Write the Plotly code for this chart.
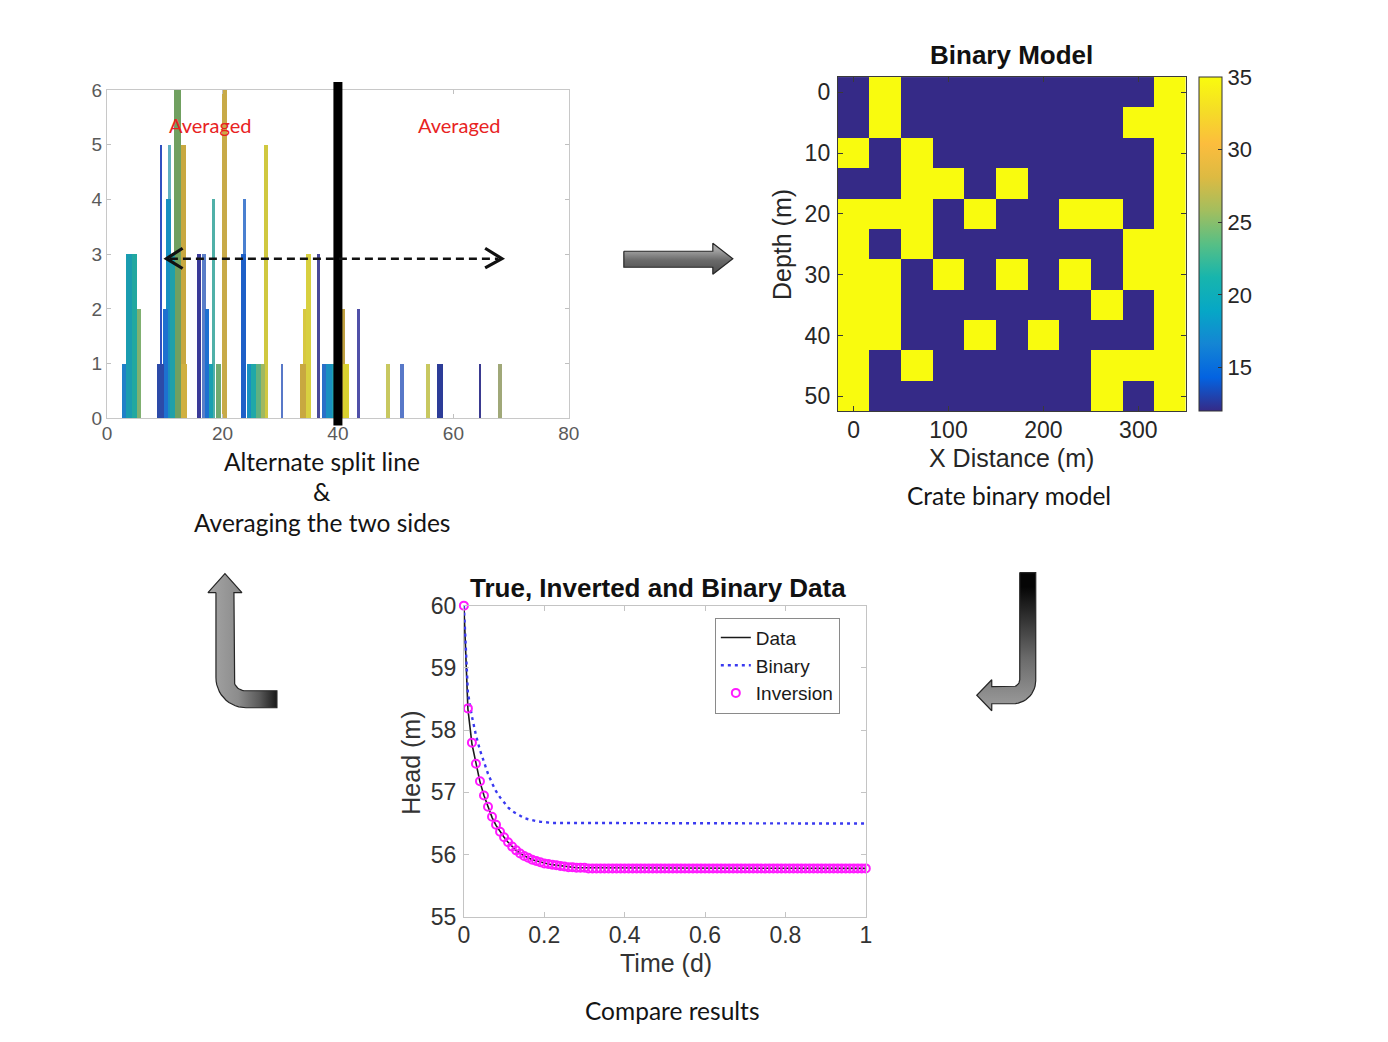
import numpy as np
import plotly.graph_objects as go

# figure size in px; layout positions below are given in screen pixels of the
# displayed page, which shows the figure offset by (OX, OY) and scaled by (SX, SY)
W, H = 1388, 1042
OX, OY = 7, 13
SX, SY = 0.988, 0.974


def px(x):
    return (x - OX) / SX / W


def py(y):
    return 1 - (y - OY) / SY / H


# ---------------- split-line histogram ----------------
bar_x = [2.95, 3.8, 4.7, 5.55,
         9.3, 9.35, 10.1, 10.65, 10.9, 11.3, 12.2, 13.2, 13.4,
         15.9, 16.8, 17.3, 18.0, 18.4, 19.3, 20.4,
         23.6, 23.8, 24.6, 25.4, 26.2, 27.0, 27.6,
         30.3, 34.0, 34.2, 34.9, 36.7, 37.6, 38.5, 39.4,
         40.9, 41.4, 43.6, 48.7, 51.1, 55.6, 57.7, 64.6, 68.1]
bar_h = [1, 3, 3, 2,
         1, 5, 2, 4, 5, 3, 6, 5, 1,
         3, 3, 2, 1, 4, 1, 6,
         3, 4, 1, 1, 1, 1, 5,
         1, 1, 2, 3, 3, 1, 1, 1,
         2, 1, 2, 1, 1, 1, 1, 1, 1]
split_x = 40
arrow_y = 2.92
arrow_span = [10.3, 68.4]
hist_xticks = [0, 20, 40, 60, 80]
hist_yticks = [0, 1, 2, 3, 4, 5, 6]

# bar styling (width in data units, colour)
bar_w = [0.7, 0.9, 0.9, 0.7,
         1.2, 0.45, 0.9, 0.8, 0.5, 0.9, 1.1, 0.9, 1.0,
         0.6, 0.6, 0.6, 0.8, 0.6, 1.0, 0.8,
         0.8, 0.4, 0.8, 0.8, 0.8, 0.8, 0.7,
         0.5, 1.0, 0.6, 0.7, 0.5, 0.8, 1.2, 0.8,
         0.8, 1.2, 0.6, 0.8, 0.6, 0.8, 1.0, 0.5, 0.6]
bar_c = ["#2080c8", "#1a9cb0", "#22a8a0", "#80b070",
         "#2c4aa8", "#3050c0", "#1e70d0", "#1890c0", "#60b0c0", "#20a0a8", "#70a060", "#c8a840", "#d0b040",
         "#3a3a98", "#5a7ec8", "#1e70d0", "#1aa0b0", "#50b0a8", "#70aa70", "#c8aa48",
         "#1e60c8", "#4a80d0", "#1890c0", "#20a8a8", "#60b080", "#a0b860", "#d0c840",
         "#5878c8", "#c8a840", "#d8c840", "#d8d040", "#4a4a98", "#2a70c8", "#1a90c0", "#20a0b0",
         "#c0a040", "#d8d030", "#5050a8", "#c8c860", "#5878c8", "#c8c860", "#2c3c98", "#3a3a90", "#a0a878"]

# ---------------- binary model grid ----------------
grid_x = [0, 33.3, 66.7, 100, 133.3, 166.7, 200, 233.3, 266.7, 300, 333.3]
grid_y = [0, 5, 10, 15, 20, 25, 30, 35, 40, 45, 50]
binary_rows = [
    [0, 1, 0, 0, 0, 0, 0, 0, 0, 0, 1],
    [0, 1, 0, 0, 0, 0, 0, 0, 0, 1, 1],
    [1, 0, 1, 0, 0, 0, 0, 0, 0, 0, 1],
    [0, 0, 1, 1, 0, 1, 0, 0, 0, 0, 1],
    [1, 1, 1, 0, 1, 0, 0, 1, 1, 0, 1],
    [1, 0, 1, 0, 0, 0, 0, 0, 0, 1, 1],
    [1, 1, 0, 1, 0, 1, 0, 1, 0, 1, 1],
    [1, 1, 0, 0, 0, 0, 0, 0, 1, 0, 1],
    [1, 1, 0, 0, 1, 0, 1, 0, 0, 0, 1],
    [1, 0, 1, 0, 0, 0, 0, 0, 1, 1, 1],
    [1, 0, 0, 0, 0, 0, 0, 0, 1, 0, 1],
]
k_low, k_high = 12, 35
cbar_ticks = [15, 20, 25, 30, 35]
model_xticks = [0, 100, 200, 300]
model_yticks = [0, 10, 20, 30, 40, 50]

# ---------------- head vs time ----------------
time_d = [round(i * 0.01, 2) for i in range(101)]
head_data = [
    60.00, 58.34, 57.78, 57.45, 57.17, 56.95, 56.76, 56.60, 56.47, 56.37,
    56.28, 56.20, 56.13, 56.07, 56.02, 55.98, 55.95, 55.92, 55.90, 55.88,
    55.86, 55.85, 55.84, 55.83, 55.82, 55.81, 55.80, 55.80, 55.79, 55.79,
    55.79, 55.78, 55.78, 55.78, 55.78, 55.78, 55.78, 55.78, 55.78, 55.78,
    55.78, 55.78, 55.78, 55.78, 55.78, 55.78, 55.78, 55.78, 55.78, 55.78,
    55.78, 55.78, 55.78, 55.78, 55.78, 55.78, 55.78, 55.78, 55.78, 55.78,
    55.78, 55.78, 55.78, 55.78, 55.78, 55.78, 55.78, 55.78, 55.78, 55.78,
    55.78, 55.78, 55.78, 55.78, 55.78, 55.78, 55.78, 55.78, 55.78, 55.78,
    55.78, 55.78, 55.78, 55.78, 55.78, 55.78, 55.78, 55.78, 55.78, 55.78,
    55.78, 55.78, 55.78, 55.78, 55.78, 55.78, 55.78, 55.78, 55.78, 55.78,
    55.78]
head_binary = [
    60.00, 58.60, 58.22, 57.92, 57.68, 57.47, 57.30, 57.15, 57.02, 56.92,
    56.83, 56.76, 56.70, 56.66, 56.62, 56.59, 56.57, 56.55, 56.54, 56.53,
    56.52, 56.51, 56.51, 56.51, 56.51, 56.51, 56.50, 56.50, 56.50, 56.50,
    56.50, 56.50, 56.50, 56.50, 56.50, 56.50, 56.50, 56.50, 56.50, 56.50,
    56.50, 56.50, 56.50, 56.50, 56.50, 56.50, 56.50, 56.50, 56.50, 56.50,
    56.50, 56.50, 56.50, 56.50, 56.50, 56.50, 56.50, 56.50, 56.50, 56.50,
    56.50, 56.50, 56.50, 56.50, 56.50, 56.50, 56.50, 56.50, 56.50, 56.50,
    56.50, 56.50, 56.50, 56.50, 56.50, 56.50, 56.50, 56.50, 56.50, 56.50,
    56.50, 56.50, 56.50, 56.50, 56.50, 56.50, 56.50, 56.50, 56.50, 56.50,
    56.50, 56.50, 56.50, 56.50, 56.50, 56.50, 56.50, 56.50, 56.50, 56.50,
    56.50]
head_inversion = [
    60.00, 58.35, 57.80, 57.46, 57.18, 56.95, 56.77, 56.61, 56.48, 56.37,
    56.28, 56.20, 56.13, 56.07, 56.02, 55.98, 55.95, 55.92, 55.90, 55.88,
    55.86, 55.85, 55.84, 55.83, 55.82, 55.81, 55.80, 55.80, 55.79, 55.79,
    55.79, 55.78, 55.78, 55.78, 55.78, 55.78, 55.78, 55.78, 55.78, 55.78,
    55.78, 55.78, 55.78, 55.78, 55.78, 55.78, 55.78, 55.78, 55.78, 55.78,
    55.78, 55.78, 55.78, 55.78, 55.78, 55.78, 55.78, 55.78, 55.78, 55.78,
    55.78, 55.78, 55.78, 55.78, 55.78, 55.78, 55.78, 55.78, 55.78, 55.78,
    55.78, 55.78, 55.78, 55.78, 55.78, 55.78, 55.78, 55.78, 55.78, 55.78,
    55.78, 55.78, 55.78, 55.78, 55.78, 55.78, 55.78, 55.78, 55.78, 55.78,
    55.78, 55.78, 55.78, 55.78, 55.78, 55.78, 55.78, 55.78, 55.78, 55.78,
    55.78]
time_ticks = [0, 0.2, 0.4, 0.6, 0.8, 1]
time_ticktext = ["0", "0.2", "0.4", "0.6", "0.8", "1"]
head_ticks = [55, 56, 57, 58, 59, 60]

PARULA = [
    [0.0, "#352a87"], [0.1, "#0363e1"], [0.2, "#1485d4"], [0.3, "#06a7c6"],
    [0.4, "#17b5ad"], [0.5, "#57bf85"], [0.6, "#a3be5e"], [0.7, "#ddba42"],
    [0.8, "#fcbd3d"], [0.9, "#f5dd26"], [1.0, "#f9fb0e"],
]

ML_FONT = "Liberation Sans"
CAP_FONT = "Lato"

fig = go.Figure()

# histogram bars, tallest drawn first so short bars stay visible
order = sorted(range(len(bar_x)), key=lambda i: -bar_h[i])
fig.add_trace(go.Bar(
    x=[bar_x[i] for i in order], y=[bar_h[i] for i in order],
    width=[bar_w[i] for i in order],
    marker=dict(color=[bar_c[i] for i in order], line=dict(width=0)),
    showlegend=False, xaxis="x", yaxis="y", hoverinfo="skip",
))

# binary model
z = [[k_high if c else k_low for c in row] for row in binary_rows]
fig.add_trace(go.Heatmap(
    x=grid_x, y=grid_y, z=z, zmin=k_low, zmax=k_high, colorscale=PARULA,
    xaxis="x2", yaxis="y2", showlegend=False, hoverinfo="skip",
    colorbar=dict(
        x=px(1200), xanchor="left", y=py(77), yanchor="top",
        len=py(77) - py(411), lenmode="fraction", thickness=23 / SX, xpad=0, ypad=0,
        outlinewidth=1, outlinecolor="#333333",
        tickvals=cbar_ticks, ticks="inside", ticklen=4, tickcolor="#333333",
        tickfont=dict(family=ML_FONT, size=22, color="#262626"),
    ),
))

# head curves
fig.add_trace(go.Scatter(
    x=time_d, y=head_data, mode="lines", name="Data",
    line=dict(color="#1a1a1a", width=1.6), xaxis="x3", yaxis="y3",
))
fig.add_trace(go.Scatter(
    x=time_d, y=head_binary, mode="lines", name="Binary",
    line=dict(color="#3a3af0", width=2.4, dash="3px,4px"), xaxis="x3", yaxis="y3",
))
fig.add_trace(go.Scatter(
    x=time_d, y=head_inversion, mode="markers", name="Inversion",
    marker=dict(symbol="circle-open", size=8, color="#ff1aff", line=dict(width=2)),
    xaxis="x3", yaxis="y3", cliponaxis=False,
))


# ---------------- workflow arrows (screen pixel frame) ----------------
def arc(cx, cy, r, a0, a1, n=14):
    a = np.radians(np.linspace(a0, a1, n))
    return list(cx + r * np.cos(a)), list(cy + r * np.sin(a))


def poly(parts):
    xs, ys = [], []
    for p in parts:
        xs += list(p[0])
        ys += list(p[1])
    return xs + [xs[0]], ys + [ys[0]]


def arrow_trace(xs, ys, kind, scale, start, stop):
    return go.Scatter(
        x=xs, y=ys, mode="lines", fill="toself",
        fillgradient=dict(type=kind, colorscale=scale, start=start, stop=stop),
        line=dict(color="#262626", width=1.2),
        xaxis="x4", yaxis="y4", showlegend=False, hoverinfo="skip",
    )


# right arrow between the top panels
rx, ry = poly([([625, 714, 714, 734, 714, 714, 625], [251, 251, 243, 258.5, 274, 267, 267])])
fig.add_trace(arrow_trace(rx, ry, "vertical",
                          [[0, "#a8a8a8"], [0.35, "#6a6a6a"], [1, "#3c3c3c"]], 243, 274))

# L-shaped arrow pointing up (bottom left)
ia = arc(246, 679, 11, 180, 90)
oa = arc(247, 677, 30, 90, 180)
lx, ly = poly([
    ([217, 209, 226, 243, 235], [592, 592, 573, 592, 592]),
    ([235], [679]), ia,
    ([278, 278], [690, 707]), oa,
])
fig.add_trace(arrow_trace(lx, ly, "horizontal",
                          [[0, "#a4a4a4"], [0.4, "#8c8c8c"], [0.7, "#5a5a5a"], [1, "#0c0c0c"]], 209, 278))

# J-shaped arrow pointing left (bottom right)
oa2 = arc(1014, 680, 23, 0, 90)
ia2 = arc(1014, 679, 7, 90, 0)
jx, jy = poly([
    ([1021, 1037, 1037], [572, 572, 680]), oa2,
    ([993, 993, 978, 993, 993, 1014], [703, 710, 694.5, 679, 686, 686]), ia2,
])
fig.add_trace(arrow_trace(jx, jy, "vertical",
                          [[0, "#050505"], [0.5, "#6a6a6a"], [1, "#b0b0b0"]], 572, 710))

# ---------------- layout ----------------
hist_axis = dict(showline=True, linecolor="#c8c8c8", linewidth=1, mirror="ticks",
                 ticks="inside", ticklen=4, tickcolor="#c0c0c0", showgrid=False, zeroline=False,
                 tickfont=dict(family=ML_FONT, size=19, color="#5a5a5a"), fixedrange=True)
model_axis = dict(showline=True, linecolor="#3a3a3a", linewidth=1, mirror="ticks",
                  ticks="inside", ticklen=5, tickcolor="#3a3a3a", showgrid=False, zeroline=False,
                  tickfont=dict(family=ML_FONT, size=23, color="#262626"), fixedrange=True)
head_axis = dict(showline=True, linecolor="#c4c4c4", linewidth=1, mirror="ticks",
                 ticks="inside", ticklen=5, tickcolor="#c4c4c4", showgrid=False, zeroline=False,
                 tickfont=dict(family=ML_FONT, size=23, color="#333333"), fixedrange=True)

fig.update_layout(
    width=W, height=H, margin=dict(l=0, r=0, t=0, b=0),
    paper_bgcolor="white", plot_bgcolor="rgba(0,0,0,0)",
    barmode="overlay", bargap=0,
    xaxis=dict(hist_axis, domain=[px(108), px(570)], range=[0, 80], tickvals=hist_xticks,
               anchor="y", ticklabelstandoff=-2),
    yaxis=dict(hist_axis, domain=[py(418), py(90)], range=[0, 6], tickvals=hist_yticks,
               anchor="x", ticklabelstandoff=0),
    xaxis2=dict(model_axis, domain=[px(839), px(1187)], range=[-16.65, 349.95],
                tickvals=model_xticks, anchor="y2", ticklabelstandoff=-2),
    yaxis2=dict(model_axis, domain=[py(411), py(77)], range=[52.5, -2.5],
                tickvals=model_yticks, anchor="x2", ticklabelstandoff=2),
    xaxis3=dict(head_axis, domain=[px(465), px(867)], range=[0, 1], tickvals=time_ticks,
                ticktext=time_ticktext, anchor="y3", ticklabelstandoff=-3),
    yaxis3=dict(head_axis, domain=[py(916), py(605)], range=[55, 60], tickvals=head_ticks,
                anchor="x3", ticklabelstandoff=2),
    xaxis4=dict(domain=[0, 1], range=[OX, OX + SX * W], visible=False, fixedrange=True, anchor="y4"),
    yaxis4=dict(domain=[0, 1], range=[OY + SY * H, OY], visible=False, fixedrange=True, anchor="x4"),
    legend=dict(
        x=px(716), y=py(617), xanchor="left", yanchor="top",
        bgcolor="white", bordercolor="#8a8a8a", borderwidth=1,
        font=dict(family=ML_FONT, size=19, color="#1a1a1a"),
        tracegroupgap=0, itemwidth=30,
    ),
)

shapes = [
    # split line through the histogram
    dict(type="line", xref="x", yref="paper", x0=split_x, x1=split_x, y0=py(425), y1=py(82),
         line=dict(color="black", width=9), layer="above"),
    # dashed double arrow across the split
    dict(type="line", xref="x", yref="y", x0=arrow_span[0] + 0.6, x1=arrow_span[1] - 0.6,
         y0=arrow_y, y1=arrow_y, line=dict(color="#111111", width=2.5, dash="8px,5px"), layer="above"),
    dict(type="path", xref="x", yref="y",
         path=f"M {arrow_span[0] + 2.8},{arrow_y + 0.19} L {arrow_span[0]},{arrow_y} L {arrow_span[0] + 2.8},{arrow_y - 0.18}",
         line=dict(color="#111111", width=3.2), layer="above"),
    dict(type="path", xref="x", yref="y",
         path=f"M {arrow_span[1] - 2.9},{arrow_y + 0.19} L {arrow_span[1]},{arrow_y} L {arrow_span[1] - 2.9},{arrow_y - 0.17}",
         line=dict(color="#111111", width=3.2), layer="above"),
]
fig.update_layout(shapes=shapes)


def note(text, x, y, size, font=CAP_FONT, color="#141414", bold=False, angle=0, xref="paper", yref="paper"):
    if bold:
        text = f"<b>{text}</b>"
    fig.add_annotation(text=text, x=x, y=y, xref=xref, yref=yref, showarrow=False,
                       xanchor="center", yanchor="middle", textangle=angle,
                       font=dict(family=font, size=size, color=color))


# labels on the histogram
note("Averaged", 17.8, 5.36, 20, color="#e8231f", xref="x", yref="y")
note("Averaged", 60.95, 5.36, 20, color="#e8231f", xref="x", yref="y")

# panel titles and axis titles
note("Binary Model", px(1013), py(55), 26, font=ML_FONT, color="#111111", bold=True)
note("X Distance (m)", px(1013), py(458), 25, font=ML_FONT, color="#262626")
note("Depth (m)", px(783), py(244), 25, font=ML_FONT, color="#262626", angle=-90)
note("True, Inverted and Binary Data", px(659), py(587), 26, font=ML_FONT, color="#111111", bold=True)
note("Time (d)", px(667), py(962), 25, font=ML_FONT, color="#333333")
note("Head (m)", px(412), py(762), 25, font=ML_FONT, color="#333333", angle=-90)

# workflow captions
note("Alternate split line", px(323), py(461), 24.5)
note("&amp;", px(323), py(491), 24.5)
note("Averaging the two sides", px(323), py(522), 24.5)
note("Crate binary model", px(1010), py(495), 24.5)
note("Compare results", px(674), py(1009), 24.5)

fig.write_html("out.html")
